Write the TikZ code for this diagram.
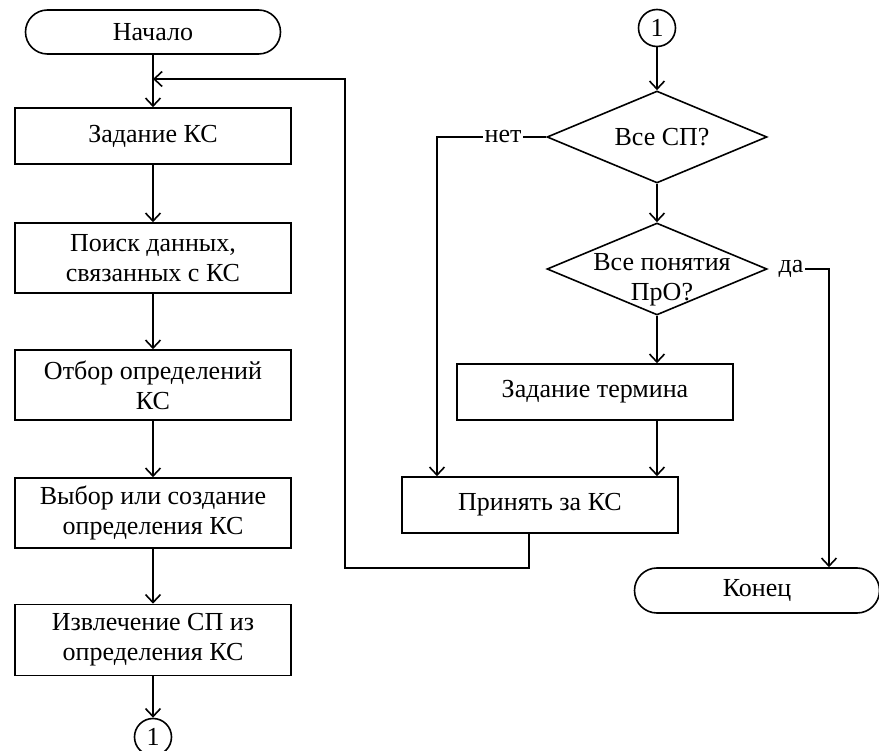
\documentclass[tikz,border=0pt]{standalone}
\usepackage{fontspec}
\setmainfont{Liberation Serif}
\usetikzlibrary{arrows.meta,shapes.geometric}

\begin{document}
\begin{tikzpicture}[x=1pt, y=-1pt, line width=1.6pt,
  font=\fontsize{26}{30}\selectfont,
  arr/.style={-{Straight Barb[length=8pt,width=15pt]}},
  block/.style={draw, rectangle, minimum width=276pt, align=center, inner sep=0pt},
  terminal/.style={draw, rectangle, rounded corners=22pt, inner sep=0pt},
  cond/.style={draw, diamond, minimum width=220pt, minimum height=92pt, inner sep=0pt},
  conn/.style={draw, circle, minimum size=37pt, inner sep=0pt}]
\useasboundingbox (0,0) rectangle (879,751);

\node[terminal, minimum width=255pt, minimum height=44pt] (start) at (153,32) {Начало};
\node[block, minimum height=56pt] (setks) at (153,136) {Задание КС};
\node[block, minimum height=70pt] (search) at (153,258) {Поиск данных,\\связанных с КС};
\node[block, minimum height=70pt] (select) at (153,385) {Отбор определений\\КС};
\node[block, minimum height=70pt] (choose) at (153,513) {Выбор или создание\\определения КС};
\node[block, minimum height=71pt] (extract) at (153,640) {Извлечение СП из\\определения КС};
\node[conn] (linkA) at (153,737) {1};

\node[conn] (linkB) at (657,28) {1};
\node[cond] (allsp) at (657,137) {};
\node (allsptext) at (662,137) {Все СП?};
\node[cond] (allpro) at (657,269) {};
\node[align=center] (allprotext) at (662,280) {Все понятия\\ПрО?};
\node[block, minimum height=56pt] (setterm) at (595,392) {Задание термина};
\node[block, minimum height=56pt] (accept) at (540,505) {Принять за КС};
\node[terminal, minimum width=245pt, minimum height=45pt, rounded corners=22.5pt] (stop) at (757,590.5) {Конец};

\node[inner sep=1pt] (no) at (503,137) {нет};
\node[inner sep=1pt] (yes) at (791,269) {да};

\coordinate (nocorner) at (437,137);
\coordinate (yescorner) at (829,269);
\coordinate (merge) at (153,79);
\coordinate (backtop) at (345,79);
\coordinate (backbot) at (345,568);
\coordinate (backout) at (529,568);

\draw[arr] (start.south) -- (setks.north);
\draw[arr] (setks.south) -- (search.north);
\draw[arr] (search.south) -- (select.north);
\draw[arr] (select.south) -- (choose.north);
\draw[arr] (choose.south) -- (extract.north);
\draw[arr] (extract.south) -- (linkA.north);

\draw[arr] (linkB.south) -- (allsp.north);
\draw[arr] (allsp.south) -- (allpro.north);
\draw[arr] (allpro.south) -- (allpro.south |- setterm.north);
\draw[arr] (allpro.south |- setterm.south) -- (allpro.south |- accept.north);

\draw (allsp.west) -- (no.east);
\draw[arr] (no.west) -- (nocorner) -- (nocorner |- accept.north);
\draw[arr] (yes.east) -- (yescorner) -- (yescorner |- stop.north);
\draw[arr] (backout |- accept.south) -- (backout) -- (backbot) -- (backtop) -- (merge);
\end{tikzpicture}
\end{document}
